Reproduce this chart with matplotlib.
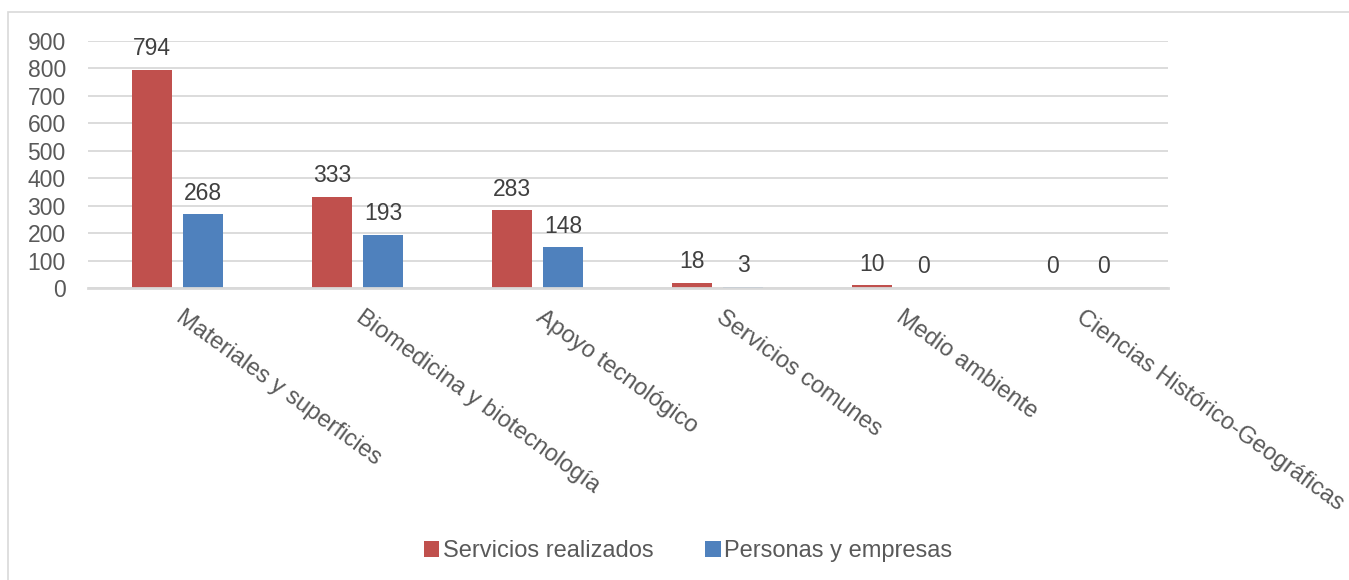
import matplotlib
matplotlib.use('AGG')
import matplotlib.pyplot as plt
import numpy as np
from matplotlib.patches import Rectangle

categorias = ["Materiales y superficies", "Biomedicina y biotecnología", "Apoyo tecnológico",
              "Servicios comunes", "Medio ambiente", "Ciencias Histórico-Geográficas"]
servicios = [794, 333, 283, 18, 10, 0]
personas = [268, 193, 148, 3, 0, 0]

rojo = '#C0504D'
azul = '#4F81BD'
gris_texto = '#595959'

plt.rcParams['font.family'] = ['Liberation Sans', 'DejaVu Sans']

fig = plt.figure(figsize=(13.49, 5.80), dpi=100)
fig.patches.append(Rectangle((8 / 1349, -0.1), 1.2, 1 - 12 / 580 + 0.1, transform=fig.transFigure,
                             fill=False, edgecolor='#D9D9D9', linewidth=1.2))
ax = fig.add_axes([88 / 1349, 1 - 288 / 580, 1080 / 1349, 247 / 580])

x = np.arange(len(categorias))
ancho = 0.222
b1 = ax.bar(x - 0.143, servicios, ancho, color=rojo, label='Servicios realizados')
b2 = ax.bar(x + 0.140, personas, ancho, color=azul, label='Personas y empresas')

for barras in (b1, b2):
    for b in barras:
        ax.annotate(str(int(b.get_height())), (b.get_x() + b.get_width() / 2, b.get_height()),
                    xytext=(0, 7), textcoords='offset points', ha='center', va='bottom',
                    fontsize=16.5, color='#404040')

ax.set_xlim(-0.5, len(categorias) - 0.5)
ax.set_ylim(0, 900)
ax.set_yticks(range(0, 901, 100))
ax.yaxis.grid(True, color='#D9D9D9', linewidth=1.3)
ax.set_axisbelow(True)
for s in ('top', 'right', 'left'):
    ax.spines[s].set_visible(False)
ax.spines['bottom'].set_color('#D9D9D9')
ax.spines['bottom'].set_linewidth(2)
ax.tick_params(axis='both', length=0, labelsize=16.5, labelcolor=gris_texto)
ax.tick_params(axis='y', pad=16)
ax.set_xticks(x + 0.04)
ax.set_xticklabels(categorias, rotation=-36, ha='left', va='top', rotation_mode='anchor',
                   fontsize=17)
ax.tick_params(axis='x', pad=13)

fig.legend(handles=[b1, b2], loc='center', bbox_to_anchor=(688 / 1349, 1 - 551 / 580), ncol=2,
           frameon=False, fontsize=17, labelcolor=gris_texto, handlelength=0.65, handleheight=0.65,
           handletextpad=0.15, columnspacing=2.2)

fig.savefig('out.png', dpi=100)
